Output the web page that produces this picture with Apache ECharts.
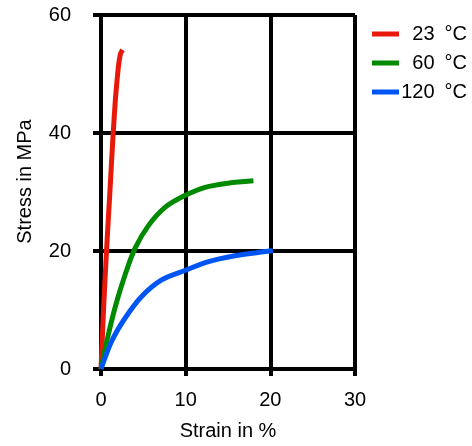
<!DOCTYPE html>
<html>
<head>
<meta charset="utf-8">
<script src="https://cdn.jsdelivr.net/npm/echarts@6/dist/echarts.min.js"></script>
<style>
  html, body { margin: 0; padding: 0; background: #fff; }
  #main { width: 472px; height: 446px; }
</style>
</head>
<body>
<div id="main"></div>
<script>
var FONT = "Liberation Sans";

var SERIES_NAMES = ["23 °C", "60 °C", "120 °C"];
var COLORS = ["#e8190a", "#008a00", "#0055f5"];

// 23 °C
var strain23 = [0, 0.3, 0.65, 1.05, 1.4, 1.7, 1.9, 2.08, 2.3, 2.55];
var stress23 = [0, 10, 20, 30, 39, 45.7, 49, 51.5, 53.4, 54.1];
// 60 °C
var strain60 = [0, 0.86, 1.85, 2.83, 4.0, 5.6, 7.56, 9.9, 12.3, 15.0, 18.0];
var stress60 = [0, 5.8, 11.4, 15.9, 20.4, 24.3, 27.4, 29.4, 30.8, 31.5, 31.9];
// 120 °C
var strain120 = [0, 1.26, 2.83, 4.8, 7.16, 9.9, 12.7, 15.8, 19.4, 20.3];
var stress120 = [0, 4.7, 8.6, 12.3, 15.1, 16.7, 18.2, 19.2, 19.9, 20.1];

function pairs(xs, ys) {
  var out = [];
  for (var i = 0; i < xs.length; i++) out.push([xs[i], ys[i]]);
  return out;
}

var curves = [pairs(strain23, stress23), pairs(strain60, stress60), pairs(strain120, stress120)];

var myChart = echarts.init(document.getElementById('main'));

var series = [];
for (var i = 0; i < curves.length; i++) {
  series.push({
    name: SERIES_NAMES[i],
    type: 'line',
    data: curves[i],
    smooth: 0.3,
    showSymbol: false,
    symbol: 'none',
    lineStyle: { color: COLORS[i], width: 5 },
    itemStyle: { color: COLORS[i] },
    z: 3
  });
}

myChart.setOption({
  animation: false,
  backgroundColor: '#fff',
  textStyle: { fontFamily: FONT },
  grid: { left: 101, top: 15, width: 254, height: 356, containLabel: false },
  legend: {
    orient: 'vertical',
    left: 367,
    top: 19,
    icon: 'rect',
    itemWidth: 27,
    itemHeight: 5,
    itemGap: 9,
    data: SERIES_NAMES,
    formatter: function (name) {
      return '{t|' + name.replace(' ', '\u2002') + '}';
    },
    textStyle: {
      rich: {
        t: { width: 63, align: 'right', fontSize: 20, color: '#000', fontFamily: FONT }
      }
    }
  },
  xAxis: {
    type: 'value',
    min: 0,
    max: 30,
    interval: 10,
    name: 'Strain in %',
    nameLocation: 'middle',
    nameGap: 52,
    nameTextStyle: { fontSize: 20, color: '#000', fontFamily: FONT },
    axisLine: { show: true, lineStyle: { color: '#000', width: 4 } },
    axisTick: { show: true, length: 7, lineStyle: { color: '#000', width: 4 } },
    axisLabel: { margin: 21, fontSize: 20, color: '#000', fontFamily: FONT },
    splitLine: { show: true, lineStyle: { color: '#000', width: 4 } }
  },
  yAxis: {
    type: 'value',
    min: 0,
    max: 60,
    interval: 20,
    name: 'Stress in MPa',
    nameLocation: 'middle',
    nameGap: 66,
    nameTextStyle: { fontSize: 20, color: '#000', fontFamily: FONT, padding: [0, 0, 0, 21] },
    axisLine: { show: true, lineStyle: { color: '#000', width: 3 } },
    axisTick: { show: true, length: 8, lineStyle: { color: '#000', width: 4 } },
    axisLabel: { margin: 30, fontSize: 20, color: '#000', fontFamily: FONT },
    splitLine: { show: true, lineStyle: { color: '#000', width: 4 } }
  },
  series: series
});
</script>
</body>
</html>
